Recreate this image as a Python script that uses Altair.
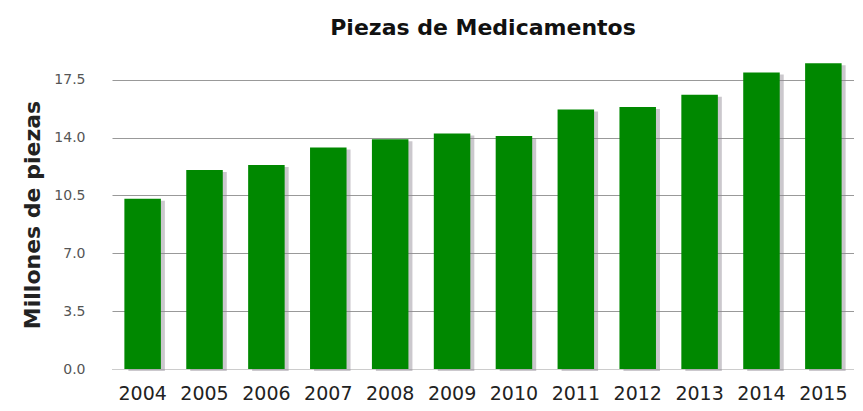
import altair as alt
import pandas as pd

years = ["2004", "2005", "2006", "2007", "2008", "2009", "2010", "2011", "2012", "2013", "2014", "2015"]
values = [10.3, 12.05, 12.35, 13.4, 13.9, 14.25, 14.1, 15.7, 15.85, 16.6, 17.95, 18.5]
y_ticks = [0.0, 3.5, 7.0, 10.5, 14.0, 17.5]

df = pd.DataFrame({"year": years, "value": values})

font = "DejaVu Sans"

x_enc = alt.X(
    "year:N",
    sort=years,
    title=None,
    scale=alt.Scale(paddingInner=0.41, paddingOuter=0.2),
    axis=alt.Axis(
        labelAngle=0, labelFont=font, labelFontSize=19, labelColor="#222222",
        labelPadding=15, ticks=False, domain=True, domainColor="#cccccc", grid=False,
    ),
)
y_enc = alt.Y(
    "value:Q",
    title="Millones de piezas",
    scale=alt.Scale(domain=[0, 18.7], nice=False),
    axis=alt.Axis(
        values=y_ticks, format=".1f", labelFont=font, labelFontSize=14,
        labelColor="#555555", labelPadding=27, ticks=False, domain=False,
        grid=True, gridColor="#999999", gridWidth=1.2,
        titleFont=font, titleFontSize=22, titleFontWeight="bold", titleColor="#222222",
        titlePadding=9,
    ),
)

shadow = alt.Chart(df).mark_bar(color="#8c8490", opacity=0.45, xOffset=4, yOffset=2).encode(
    x=x_enc, y=y_enc
)
bars = alt.Chart(df).mark_bar(color="#008800").encode(x=x_enc, y=y_enc)

chart = (
    alt.layer(shadow, bars)
    .properties(
        width=742,
        height=309,
        title=alt.TitleParams(
            "Piezas de Medicamentos", font=font, fontSize=22, fontWeight="bold",
            color="#111111", offset=20,
        ),
        padding={"left": 13, "top": 9, "right": 0, "bottom": 0},
    )
    .configure_view(stroke=None)
)

chart.save("out.html", embed_options={"renderer": "svg", "actions": False})
